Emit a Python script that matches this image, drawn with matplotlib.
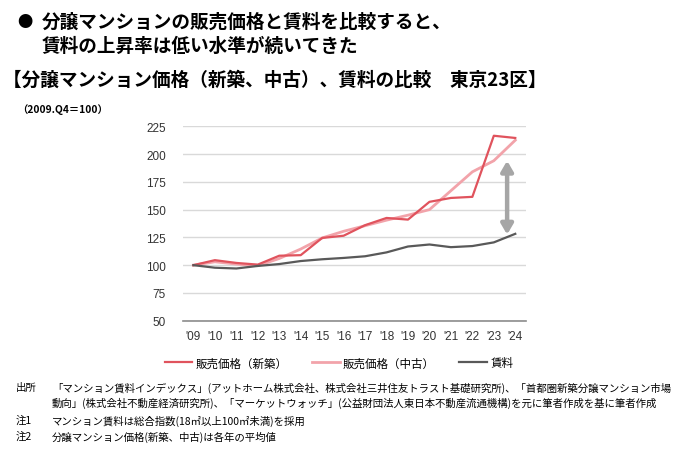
import numpy as np
import matplotlib
matplotlib.use("Agg")
import matplotlib.pyplot as plt

plt.rcParams['font.family'] = ['Noto Sans CJK JP', 'DejaVu Sans']

years = np.arange(2009, 2025)
year_labels = ["'09", "'10", "'11", "'12", "'13", "'14", "'15", "'16",
               "'17", "'18", "'19", "'20", "'21", "'22", "'23", "'24"]
price_new = [100, 104.5, 102, 100.5, 108.5, 109, 124.5, 126.5,
             136, 142.5, 141, 157, 160.5, 161.5, 216.5, 214.5]
price_used = [100, 103, 101, 99.5, 106, 114.5, 124.5, 130.5,
              135.5, 140.5, 145, 150, 167, 184, 194, 212.5]
rent = [100, 97.7, 97, 99.3, 101, 103.7, 105.3, 106.5,
        108, 111.5, 116.8, 118.6, 116.2, 117.2, 120.5, 128.2]
series_names = ["販売価格（新築）", "販売価格（中古）", "賃料"]
arrow_year = 2023.62
arrow_top, arrow_bottom = 194, 127.5

W, H = 696, 452
fig = plt.figure(figsize=(W / 100, H / 100), dpi=100)


def fx(px):
    return px / W


def fy(py):
    return 1 - py / H


# headline texts
fig.text(fx(17), fy(22), "●", fontsize=11, va="center", ha="left")
fig.text(fx(42), fy(22), "分譲マンションの販売価格と賃料を比較すると、",
         fontsize=13.4, fontweight="bold", va="center", ha="left")
fig.text(fx(42), fy(46), "賃料の上昇率は低い水準が続いてきた",
         fontsize=13.4, fontweight="bold", va="center", ha="left")
fig.text(fx(3), fy(80), "【分譲マンション価格（新築、中古）、賃料の比較　東京23区】",
         fontsize=13.4, fontweight="bold", va="center", ha="left")
fig.text(fx(17), fy(110), "（2009.Q4＝100）", fontsize=7.4, fontweight="bold",
         va="center", ha="left")

ax = fig.add_axes([fx(182.7), fy(321.7), fx(526 - 182.7), (321.7 - 127.3) / H])

c_new, c_used, c_rent = "#e0535d", "#f2a3aa", "#595959"
ax.plot(years, price_new, color=c_new, lw=1.6, label=series_names[0], zorder=3)
ax.plot(years, price_used, color=c_used, lw=2.0, label=series_names[1], zorder=2)
ax.plot(years, rent, color=c_rent, lw=1.6, label=series_names[2], zorder=3)

ax.annotate("", xy=(arrow_year, arrow_bottom), xytext=(arrow_year, arrow_top),
            arrowprops=dict(arrowstyle="<|-|>,head_length=0.6,head_width=0.35",
                            color="#a6a6a6", lw=3.2, shrinkA=0, shrinkB=0))

ax.set_xlim(2008.5, 2024.5)
ax.set_ylim(50, 225)
ax.set_yticks(np.arange(50, 226, 25))
ax.set_xticks(years)
ax.set_xticklabels(year_labels)
ax.yaxis.grid(True, color="#d9d9d9", lw=1)
ax.set_axisbelow(True)
for s in ["top", "right", "left"]:
    ax.spines[s].set_visible(False)
ax.spines["bottom"].set_color("#8c8c8c")
ax.spines["bottom"].set_linewidth(1.2)
ax.tick_params(length=0, labelsize=8.5, colors="#333333")
ax.tick_params(axis="y", pad=12)
ax.tick_params(axis="x", pad=7)
for lab in ax.get_xticklabels() + ax.get_yticklabels():
    lab.set_fontfamily(["Liberation Sans", "DejaVu Sans"])

fig.legend(loc="center", bbox_to_anchor=(fx(339), fy(364)), ncol=3, frameon=False,
           fontsize=8.3, handlelength=2.4, handletextpad=0.3, columnspacing=2.1)

# notes
notes = [
    (388, "出所", "「マンション賃料インデックス」(アットホーム株式会社、株式会社三井住友トラスト基礎研究所)、「首都圏新築分譲マンション市場"),
    (403, "", "動向」(株式会社不動産経済研究所)、「マーケットウォッチ」(公益財団法人東日本不動産流通機構)を元に筆者作成を基に筆者作成"),
    (421, "注1", "マンション賃料は総合指数(18㎡以上100㎡未満)を採用"),
    (437, "注2", "分譲マンション価格(新築、中古)は各年の平均値"),
]
for py, head, body in notes:
    if head:
        fig.text(fx(16), fy(py), head, fontsize=7.5, va="center", ha="left")
    fig.text(fx(52), fy(py), body, fontsize=7.5, va="center", ha="left")

fig.savefig("out.png", dpi=100)
